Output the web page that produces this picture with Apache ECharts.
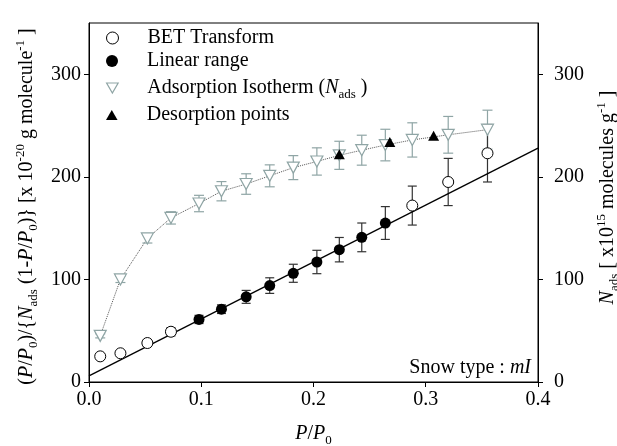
<!DOCTYPE html>
<html><head><meta charset="utf-8">
<script src="https://cdn.jsdelivr.net/npm/echarts@6/dist/echarts.min.js"></script>
<style>html,body{margin:0;padding:0;background:#fff}#c{width:617px;height:446px}</style>
</head><body><div id="c"></div>
<script>
// ---- data ----
const betOpenX = [0.010, 0.028, 0.052, 0.073, 0.288, 0.320, 0.355];
const betOpenY = [25, 28, 38, 49, 172, 195, 223];
const betOpenErr = [2, 2, 3, 4, 19, 23, 28];
const linX = [0.098, 0.118, 0.140, 0.161, 0.182, 0.203, 0.223, 0.243, 0.264];
const linY = [61, 71, 83, 94, 106, 117, 129, 141, 155];
const linErr = [4, 4.2, 6.3, 7.6, 8.8, 11.4, 11.9, 14, 16];
const isoX = [0.010, 0.028, 0.052, 0.073, 0.098, 0.118, 0.140, 0.161, 0.182, 0.203, 0.223, 0.243, 0.264, 0.288, 0.320, 0.355];
const isoY = [45, 100, 140, 160, 174, 186, 193, 201, 209, 215, 221, 226, 231, 236, 241, 246];
const isoErr = [2, 3, 4.5, 6, 8, 9.4, 10, 10.7, 11.7, 13.3, 13.7, 14.6, 15.4, 16.7, 17.9, 19];
const desX = [0.223, 0.268, 0.307];
const desY = [222, 234, 240];
const fitX = [0, 0.4];
const fitY = [6, 228];
const xTickVals = [0, 0.1, 0.2, 0.3, 0.4];
const xTickLabels = ['0.0', '0.1', '0.2', '0.3', '0.4'];
const yTickVals = [0, 100, 200, 300];
const yTickLabels = ['0', '100', '200', '300'];

// ---- styling ----
const FF = 'Liberation Serif';
const ISO_COLOR = '#8fa5a5';
const TRI_DOWN = 'path://M0,0L10,0L5,8.66Z';
const TRI_UP = 'path://M5,0L10,8.66L0,8.66Z';
const rich = {
  i: {fontFamily: FF, fontStyle: 'italic', fontSize: 20, lineHeight: 26, color: '#000'},
  sub: {fontFamily: FF, fontSize: 13, lineHeight: 13, verticalAlign: 'bottom', color: '#000'},
  sup: {fontFamily: FF, fontSize: 13, lineHeight: 13, verticalAlign: 'top', color: '#000'}
};
const nameStyle = (pad) => ({fontFamily: FF, fontSize: 20, lineHeight: 26, color: '#000', rich: rich, padding: pad});
const zip = (xs, ys) => xs.map((x, i) => [x, ys[i]]);
const pick = (vals, labels) => (v) => {
  let k = 0; vals.forEach((t, j) => { if (Math.abs(t - v) < Math.abs(vals[k] - v)) k = j; });
  return labels[k];
};

function errSeries(name, xs, ys, es, color, capW, yAxisIndex) {
  return {
    type: 'custom', name: name, yAxisIndex: yAxisIndex, silent: true, z: 2,
    data: xs.map((x, i) => [x, ys[i] - es[i], ys[i] + es[i]]),
    encode: {x: 0, y: [1, 2]},
    renderItem: function (params, api) {
      const x = api.value(0);
      const lo = api.coord([x, api.value(1)]);
      const hi = api.coord([x, api.value(2)]);
      const h = capW / 2;
      const st = {stroke: color, lineWidth: 1.2};
      return {type: 'group', children: [
        {type: 'line', shape: {x1: lo[0], y1: lo[1], x2: hi[0], y2: hi[1]}, style: st},
        {type: 'line', shape: {x1: lo[0] - h, y1: lo[1], x2: lo[0] + h, y2: lo[1]}, style: st},
        {type: 'line', shape: {x1: hi[0] - h, y1: hi[1], x2: hi[0] + h, y2: hi[1]}, style: st}
      ]};
    }
  };
}

const axisCommon = {
  axisLine: {show: true, onZero: false, lineStyle: {color: '#000', width: 1}},
  axisTick: {show: true, inside: false, length: 5, lineStyle: {color: '#000', width: 1}},
  splitLine: {show: false},
  nameLocation: 'middle'
};
const labelStyle = {fontFamily: FF, fontSize: 20, color: '#000'};

const legendBase = {
  orient: 'vertical', left: 106, padding: 0, itemWidth: 60, selectedMode: false,
  textStyle: {fontFamily: FF, fontSize: 20, lineHeight: 20, color: '#000', rich: rich}
};

const option = {
  animation: false,
  backgroundColor: '#fff',
  grid: {left: 89, right: 79, top: 23, bottom: 64, outerBoundsMode: 'none', containLabel: false,
    show: true, borderColor: '#000', borderWidth: 1, backgroundColor: 'transparent'},
  xAxis: Object.assign({}, axisCommon, {
    type: 'value', min: 0, max: 0.4, interval: 0.1,
    axisTick: Object.assign({}, axisCommon.axisTick, {customValues: xTickVals}),
    axisLabel: Object.assign({}, labelStyle, {margin: 8, customValues: xTickVals, formatter: pick(xTickVals, xTickLabels)}),
    name: '{i|P}/{i|P}{sub|0}', nameGap: 39, nameTextStyle: nameStyle([0, 0, 0, 0])
  }),
  yAxis: [
    Object.assign({}, axisCommon, {
      type: 'value', position: 'left', min: 0, max: 350, interval: 50,
      axisTick: Object.assign({}, axisCommon.axisTick, {customValues: yTickVals}),
      axisLabel: Object.assign({}, labelStyle, {margin: 8, customValues: yTickVals, formatter: pick(yTickVals, yTickLabels)}),
      name: '({i|P}/{i|P}{sub|0})/{{i|N}{sub|ads} (1-{i|P}/{i|P}{sub|0})} [x 10{sup|-20} g molecule{sup|-1} ]',
      nameRotate: 90, nameGap: 42, nameTextStyle: nameStyle([0, 8, 0, 0])
    }),
    Object.assign({}, axisCommon, {
      type: 'value', position: 'right', min: 0, max: 350, interval: 50,
      axisTick: Object.assign({}, axisCommon.axisTick, {customValues: yTickVals}),
      axisLabel: Object.assign({}, labelStyle, {margin: 16, customValues: yTickVals, formatter: pick(yTickVals, yTickLabels)}),
      name: '{i|N}{sub|ads} [ x10{sup|15} molecules g{sup|-1} ]',
      nameRotate: 90, nameGap: 55, nameTextStyle: nameStyle([0, 0, 0, 10])
    })
  ],
  legend: [
    Object.assign({}, legendBase, {top: 28, itemHeight: 12,
      data: [{name: 'BET Transform', icon: 'circle', itemStyle: {color: '#fff', borderColor: '#000', borderWidth: 1}}]}),
    Object.assign({}, legendBase, {top: 51, itemHeight: 12,
      data: [{name: 'Linear range', icon: 'circle', itemStyle: {color: '#000', borderWidth: 0}}]}),
    Object.assign({}, legendBase, {top: 75, itemHeight: 10,
      textStyle: Object.assign({}, legendBase.textStyle, {lineHeight: 26}),
      formatter: (n) => n + ' ({i|N}{sub|ads} )',
      data: [{name: 'Adsorption Isotherm', icon: TRI_DOWN, itemStyle: {color: '#fff', borderColor: ISO_COLOR, borderWidth: 1.2}}]}),
    Object.assign({}, legendBase, {top: 105, itemHeight: 10,
      data: [{name: 'Desorption points', icon: TRI_UP, itemStyle: {color: '#000', borderWidth: 0}}]})
  ],
  graphic: [{
    type: 'text', z: 100,
    style: {
      x: 531, y: 368, align: 'right', verticalAlign: 'middle',
      text: 'Snow type : {i|mI}', fontFamily: FF, fontSize: 20, fill: '#000',
      rich: {i: {fontFamily: FF, fontStyle: 'italic', fontSize: 20, fill: '#000'}}
    }
  }],
  series: [
    {type: 'line', name: 'isoLine', yAxisIndex: 1, data: zip(isoX, isoY), symbol: 'none', silent: true, z: 1,
      lineStyle: {type: 'dotted', color: '#555', width: 1}},
    {type: 'line', name: 'fit', data: zip(fitX, fitY), symbol: 'none', silent: true, z: 3,
      lineStyle: {color: '#000', width: 1.3}},
    errSeries('errIso', isoX, isoY, isoErr, ISO_COLOR, 10, 1),
    errSeries('errBet', betOpenX, betOpenY, betOpenErr, '#333', 9, 0),
    errSeries('errLin', linX, linY, linErr, '#333', 9, 0),
    {type: 'scatter', name: 'Adsorption Isotherm', yAxisIndex: 1, data: zip(isoX, isoY), symbol: TRI_DOWN, symbolSize: [12, 11], z: 4,
      itemStyle: {color: '#fff', borderColor: ISO_COLOR, borderWidth: 1.2, opacity: 1}},
    {type: 'scatter', name: 'BET Transform', data: zip(betOpenX, betOpenY), symbol: 'circle', symbolSize: 11, z: 5,
      itemStyle: {color: '#fff', borderColor: '#000', borderWidth: 1, opacity: 1}},
    {type: 'scatter', name: 'Linear range', data: zip(linX, linY), symbol: 'circle', symbolSize: 11, z: 5,
      itemStyle: {color: '#000', opacity: 1}},
    {type: 'scatter', name: 'Desorption points', yAxisIndex: 1, data: zip(desX, desY), symbol: TRI_UP, symbolSize: [11, 10], z: 6,
      itemStyle: {color: '#000', opacity: 1}}
  ]
};
const chart = echarts.init(document.getElementById('c'), null, {renderer: 'canvas'});
chart.setOption(option);
</script></body></html>
